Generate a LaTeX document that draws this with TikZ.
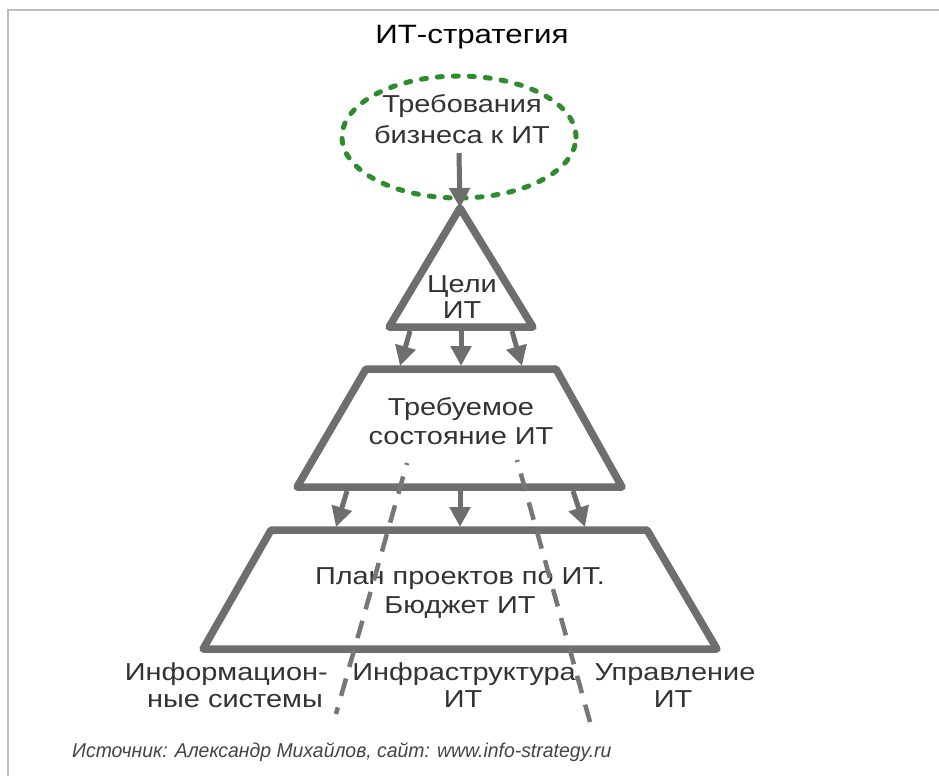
\documentclass[tikz,border=0pt]{standalone}
\usepackage{fontspec}
\setmainfont{Liberation Sans}[FakeStretch=1.18]
\newfontfamily\footfont{Liberation Sans}[FakeStretch=0.97]
\usetikzlibrary{arrows.meta,shapes.geometric}
\definecolor{shapegray}{HTML}{6E6E6E}
\definecolor{dashgray}{HTML}{767676}
\definecolor{txt}{HTML}{333333}
\definecolor{grn}{HTML}{2E8B2E}
\definecolor{framegray}{HTML}{BDBDBD}
\definecolor{foot}{HTML}{444444}
\begin{document}
\begin{tikzpicture}[x=1pt,y=-1pt,
  outline/.style={draw=shapegray, line width=7.5pt, line join=round},
  conn/.style={draw=shapegray, line width=5pt, -{Triangle[length=20pt,width=20pt]}},
  dashline/.style={draw=dashgray, line width=4.5pt, dash pattern=on 18pt off 12pt, dash phase=16pt},
  lbl/.style={text=txt, font=\fontsize{24.5}{28}\selectfont, inner sep=0pt, anchor=base},
]
\useasboundingbox (0,0) rectangle (939,776);
\fill[white] (0,0) rectangle (939,776);
\draw[framegray, line width=2.5pt] (8,776) -- (8,10) -- (939,10);

% title
\node[lbl, text=black, font=\fontsize{26.5}{30}\selectfont] (title) at (472,44) {ИТ-стратегия};

% business requirements ellipse
\node[ellipse, draw=grn, line width=5pt, dash pattern=on 5pt off 11pt, line cap=round,
      minimum width=234pt, minimum height=122pt, inner sep=0pt] (req) at (459,137) {};
\node[lbl] (req1) at (462,112) {Требования};
\node[lbl] (req2) at (462,143) {бизнеса к ИТ};

% triangle
\coordinate (tA) at (460,208);
\coordinate (tL) at (389,327);
\coordinate (tR) at (533,327);
\draw[outline] (tA) -- (tL) -- (tR) -- cycle;
\node[lbl] (goal1) at (462,292) {Цели};
\node[lbl] (goal2) at (462,318) {ИТ};

% trapezoid 1
\coordinate (aTL) at (366,369);
\coordinate (aTR) at (556,369);
\coordinate (aBR) at (622,487);
\coordinate (aBL) at (297,487);
\draw[outline] (aTL) -- (aTR) -- (aBR) -- (aBL) -- cycle;
\node[lbl] (st1) at (461,415) {Требуемое};
\node[lbl] (st2) at (461,444) {состояние ИТ};

% trapezoid 2
\coordinate (bTL) at (271,530);
\coordinate (bTR) at (647,530);
\coordinate (bBR) at (717,649);
\coordinate (bBL) at (203,649);
\draw[outline] (bTL) -- (bTR) -- (bBR) -- (bBL) -- cycle;
\node[lbl] (pl1) at (460,584) {План проектов по ИТ.};
\node[lbl] (pl2) at (460,613) {Бюджет ИТ};

% dashed dividers
\coordinate (d1s) at (407,463);
\coordinate (d1e) at (336,714);
\coordinate (d2s) at (517,460);
\coordinate (d2e) at (590,722);
\draw[dashline] (d1s) -- (d1e);
\draw[dashline] (d2s) -- (d2e);

% arrows
\coordinate (e0) at (459,153);
\draw[conn] (e0) -- (tA);
\coordinate (g1) at (410,331);
\coordinate (g2) at (461,331);
\coordinate (g3) at (512,331);
\coordinate (h1) at (400,366);
\coordinate (h2) at (461,366);
\coordinate (h3) at (522,366);
\draw[conn] (g1) -- (h1);
\draw[conn] (g2) -- (h2);
\draw[conn] (g3) -- (h3);
\coordinate (k1) at (347,491);
\coordinate (k2) at (460,491);
\coordinate (k3) at (573,491);
\coordinate (m1) at (336,527);
\coordinate (m2) at (460,527);
\coordinate (m3) at (585,527);
\draw[conn] (k1) -- (m1);
\draw[conn] (k2) -- (m2);
\draw[conn] (k3) -- (m3);

% bottom labels
\node[lbl, anchor=base east] (is1) at (328,680) {Информацион-};
\node[lbl, anchor=base east] (is2) at (323,707) {ные системы};
\node[lbl] (inf1) at (464,680) {Инфраструктура};
\node[lbl] (inf2) at (463,707) {ИТ};
\node[lbl] (man1) at (675,680) {Управление};
\node[lbl] (man2) at (673,707) {ИТ};

% footer
\node[inner sep=0pt, anchor=base west, text=foot, font=\footfont\fontsize{20}{24}\selectfont\itshape] (src) at (72,757) {Источник: Александр Михайлов, сайт: www.info-strategy.ru};
\end{tikzpicture}
\end{document}
